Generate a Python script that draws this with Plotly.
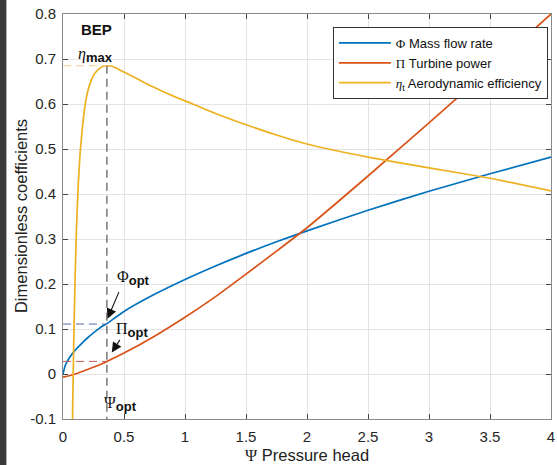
import plotly.graph_objects as go

# ---- data ----
psi_flow = [0, 0.02, 0.05, 0.1, 0.15, 0.2, 0.3, 0.36, 0.5, 0.75, 1.0, 1.25, 1.5, 1.75, 2.0, 2.5, 3.0, 3.5, 4.0]
phi_flow = [0, 0.02, 0.035, 0.053, 0.067, 0.08, 0.102, 0.112, 0.139, 0.177, 0.21, 0.24, 0.268, 0.294, 0.318, 0.364, 0.406, 0.445, 0.482]

psi_power = [0, 0.05, 0.1, 0.2, 0.3, 0.36, 0.5, 0.75, 1.0, 1.25, 1.5, 1.75, 2.0, 2.5, 3.0, 3.5, 4.0]
pi_power = [-0.007, -0.004, 0.0, 0.010, 0.0205, 0.028, 0.0465, 0.084, 0.126, 0.172, 0.222, 0.273, 0.325, 0.44, 0.558, 0.678, 0.80]

psi_eff = [0.076, 0.08, 0.085, 0.09, 0.1, 0.11, 0.125, 0.14, 0.16, 0.18, 0.2, 0.23, 0.26, 0.3, 0.33, 0.36,
           0.4, 0.45, 0.5, 0.6, 0.7, 0.8, 0.9, 1.0, 1.25, 1.5, 1.75, 2.0, 2.5, 3.0, 3.5, 4.0]
eta_eff = [-0.15, -0.06, 0.02, 0.10, 0.22, 0.32, 0.42, 0.49, 0.55, 0.595, 0.625, 0.652, 0.668, 0.679, 0.684, 0.685,
           0.684, 0.678, 0.671, 0.657, 0.643, 0.63, 0.618, 0.607, 0.579, 0.554, 0.531, 0.511, 0.482, 0.458, 0.435, 0.407]

psi_opt = 0.36
phi_opt = 0.111
pi_opt = 0.028
eta_max = 0.685

x_ticks = [0, 0.5, 1, 1.5, 2, 2.5, 3, 3.5, 4]
x_tick_labels = ["0", "0.5", "1", "1.5", "2", "2.5", "3", "3.5", "4"]
y_ticks = [-0.1, 0, 0.1, 0.2, 0.3, 0.4, 0.5, 0.6, 0.7, 0.8]
y_tick_labels = ["-0.1", "0", "0.1", "0.2", "0.3", "0.4", "0.5", "0.6", "0.7", "0.8"]

BLUE = "#0072BD"
RED = "#D95319"
ORANGE = "#EDB120"
SERIF = "Liberation Serif"
SANS = "Liberation Sans"


def greek(ch, size=None):
    st = f"font-family:{SERIF}"
    if size:
        st += f";font-size:{size}px"
    return f'<span style="{st}">{ch}</span>'


def sub(txt, size=13):
    return f'<sub><span style="font-size:{size}px"><b>{txt}</b></span></sub>'


fig = go.Figure()
fig.add_trace(go.Scatter(x=psi_flow, y=phi_flow, mode="lines", name=greek("Φ") + " Mass flow rate",
                         line=dict(color=BLUE, width=1.7, shape="spline", smoothing=0.6)))
fig.add_trace(go.Scatter(x=psi_power, y=pi_power, mode="lines", name=greek("Π") + " Turbine power",
                         line=dict(color=RED, width=1.7, shape="spline", smoothing=0.6)))
fig.add_trace(go.Scatter(x=psi_eff, y=eta_eff, mode="lines",
                         name=greek("<i>η</i>") + "<sub>t</sub> Aerodynamic efficiency",
                         line=dict(color=ORANGE, width=1.7, shape="spline", smoothing=0.5)))

shapes = [
    # dark strip at the left edge of the picture
    dict(type="rect", xref="paper", yref="paper", x0=-0.13, x1=-0.116, y0=-0.2, y1=1.2,
         fillcolor="#3a3a3a", line=dict(width=0), layer="above"),
    dict(type="line", x0=psi_opt, x1=psi_opt, y0=eta_max, y1=-0.1,
         line=dict(color="#333333", width=1, dash="8px,5px")),
    dict(type="line", x0=0, x1=psi_opt, y0=eta_max, y1=eta_max,
         line=dict(color="#F5CD8A", width=1.2, dash="8px,5px")),
    dict(type="line", x0=0, x1=psi_opt, y0=phi_opt, y1=phi_opt,
         line=dict(color="#5A6AB5", width=1, dash="8px,5px")),
    dict(type="line", x0=0, x1=psi_opt, y0=pi_opt, y1=pi_opt,
         line=dict(color="#C05A5A", width=1, dash="8px,5px")),
]

ann_font = dict(family=SANS, size=16, color="#111111")
annotations = [
    dict(x=0.13, y=0.765, text="<b>BEP</b>", showarrow=False, xanchor="left",
         font=dict(family=SANS, size=15, color="#111")),
    dict(x=0.11, y=0.708, text=greek("<i>η</i>") + sub("max"), showarrow=False, xanchor="left", font=ann_font),
    dict(x=0.43, y=0.214, text=greek("Φ") + sub("opt"), showarrow=False, xanchor="left", font=ann_font),
    dict(x=0.42, y=0.097, text=greek("Π") + sub("opt"), showarrow=False, xanchor="left", font=ann_font),
    dict(x=0.32, y=-0.066, text=greek("Ψ") + sub("opt"), showarrow=False, xanchor="left", font=ann_font),
    dict(x=psi_opt + 0.005, y=phi_opt + 0.012, ax=12, ay=-28, text="", showarrow=True,
         arrowhead=2, arrowsize=1.8, arrowwidth=1.1, arrowcolor="#111"),
    dict(x=psi_opt + 0.04, y=pi_opt + 0.02, ax=9, ay=-14, text="", showarrow=True,
         arrowhead=2, arrowsize=1.8, arrowwidth=1.1, arrowcolor="#111"),
    dict(xref="paper", yref="paper", x=-0.087, y=0.5, xanchor="center", yanchor="middle",
         text="Dimensionless coefficients", textangle=-90,
         showarrow=False, font=dict(family=SANS, size=16.5, color="#222")),
    dict(xref="paper", yref="paper", x=0.5, y=-0.09, xanchor="center", yanchor="middle",
         text=greek("Ψ") + " Pressure head",
         showarrow=False, font=dict(family=SANS, size=16.5, color="#222")),
]

axis_common = dict(showline=True, linecolor="#8a8a8a", linewidth=1, mirror="ticks", ticks="inside",
                   ticklen=5, tickcolor="#444", showgrid=True, gridcolor="#e3e3e3", gridwidth=1,
                   zeroline=False, ticklabeloverflow="allow",
                   tickfont=dict(family=SANS, size=15, color="#262626"))

fig.update_layout(
    width=557, height=465,
    margin=dict(l=63, r=2, t=14, b=46),
    paper_bgcolor="white", plot_bgcolor="white",
    showlegend=True,
    legend=dict(x=0.553, y=0.968, xanchor="left", yanchor="top", bgcolor="white",
                bordercolor="#333", borderwidth=1, font=dict(family=SANS, size=13, color="#111"),
                tracegroupgap=0, itemwidth=52),
    xaxis=dict(range=[0, 4], tickvals=x_ticks, ticktext=x_tick_labels, ticklabelstandoff=4, **axis_common),
    yaxis=dict(range=[-0.1, 0.8], tickvals=y_ticks, ticktext=y_tick_labels, ticklabelstandoff=3, **axis_common),
    shapes=shapes,
    annotations=annotations,
)

fig.write_html("out.html")
